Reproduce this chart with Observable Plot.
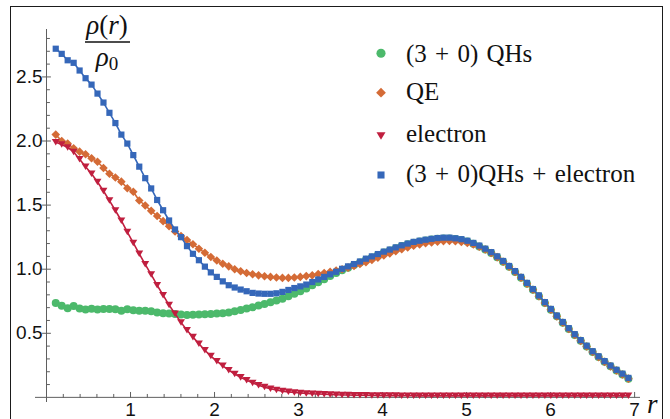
<!DOCTYPE html>
<html>
<head>
<meta charset="utf-8">
<script src="https://cdn.jsdelivr.net/npm/d3@7"></script>
<script src="https://cdn.jsdelivr.net/npm/@observablehq/plot@0.6"></script>
<style>
html,body{margin:0;padding:0;background:#fff;overflow:hidden}
#wrap{position:relative;width:670px;height:419px;overflow:hidden;background:#fff}
#frame{position:absolute;left:9.5px;top:5.5px;width:653px;height:440px;border:1.6px solid #1b1b1b;box-sizing:border-box}
#chart{position:absolute;left:0;top:0}
#overlay{position:absolute;left:0;top:0}
#overlay text{font-family:"Times New Roman","Liberation Serif","DejaVu Serif";fill:#111}
</style>
</head>
<body>
<div id="wrap"><div id="frame"></div><div id="chart"></div><svg id="overlay" width="670" height="419"></svg></div>
<script>
// ---------- data ----------
const r = [0.110,0.181,0.252,0.323,0.394,0.465,0.536,0.607,0.678,0.749,0.820,0.891,0.962,1.033,1.104,1.175,1.246,1.317,1.388,1.459,1.530,1.601,1.672,1.743,1.814,1.885,1.956,2.027,2.098,2.169,2.240,2.311,2.382,2.453,2.524,2.595,2.666,2.737,2.808,2.879,2.950,3.021,3.092,3.163,3.234,3.305,3.376,3.447,3.518,3.589,3.660,3.731,3.802,3.873,3.944,4.015,4.086,4.157,4.228,4.299,4.370,4.441,4.512,4.583,4.654,4.725,4.796,4.867,4.938,5.009,5.080,5.151,5.222,5.293,5.364,5.435,5.506,5.577,5.648,5.719,5.790,5.861,5.932,6.003,6.074,6.145,6.216,6.287,6.358,6.429,6.500,6.571,6.642,6.713,6.784,6.855,6.926];

const qhs = [0.737,0.714,0.695,0.712,0.694,0.686,0.692,0.686,0.69,0.69,
0.688,0.675,0.688,0.68,0.676,0.675,0.671,0.663,0.657,0.655,
0.651,0.647,0.642,0.645,0.646,0.649,0.651,0.654,0.657,0.662,
0.672,0.682,0.693,0.704,0.716,0.729,0.742,0.755,0.77,0.788,
0.808,0.828,0.85,0.874,0.898,0.922,0.946,0.97,0.992,1.012,
1.032,1.052,1.073,1.092,1.11,1.13,1.146,1.163,1.18,1.194,
1.207,1.216,1.224,1.231,1.237,1.24,1.24,1.235,1.228,1.216,
1.199,1.178,1.154,1.127,1.094,1.058,1.019,0.979,0.934,0.887,
0.839,0.789,0.737,0.684,0.632,0.582,0.534,0.487,0.441,0.397,
0.354,0.314,0.277,0.242,0.209,0.179,0.146];

const qe = [2.05,2.00,1.98,1.943,1.917,1.897,1.865,1.838,1.79,1.745,
1.715,1.683,1.632,1.604,1.536,1.497,1.455,1.415,1.375,1.335,
1.295,1.258,1.228,1.195,1.16,1.128,1.095,1.068,1.043,1.022,
1.0,0.984,0.97,0.96,0.952,0.945,0.94,0.935,0.932,0.932,
0.935,0.94,0.946,0.952,0.962,0.97,0.98,0.99,1.0,1.012,
1.025,1.04,1.055,1.072,1.09,1.107,1.123,1.14,1.156,1.17,
1.183,1.193,1.202,1.209,1.215,1.219,1.22,1.218,1.213,1.205,
1.192,1.175,1.153,1.127,1.094,1.058,1.019,0.979,0.934,0.887,
0.839,0.789,0.737,0.684,0.632,0.582,0.534,0.487,0.441,0.397,
0.354,0.314,0.277,0.242,0.209,0.179,0.146];

const electron = [1.99,1.973,1.95,1.915,1.858,1.80,1.745,1.68,1.61,1.535,
1.458,1.378,1.29,1.205,1.12,1.038,0.958,0.875,0.797,0.72,
0.652,0.585,0.523,0.47,0.418,0.368,0.322,0.282,0.246,0.212,
0.182,0.156,0.133,0.113,0.095,0.08,0.067,0.057,0.049,0.043,
0.038,0.034,0.031,0.028,0.026,0.024,0.022,0.02,0.019,0.018,
0.017,0.016,0.016,0.015,0.015,0.014,0.014,0.014,0.013,0.013,
0.013,0.012,0.012,0.012,0.012,0.012,0.012,0.012,0.012,0.012,
0.012,0.012,0.012,0.012,0.012,0.012,0.012,0.012,0.012,0.012,
0.012,0.012,0.012,0.012,0.012,0.012,0.012,0.012,0.012,0.012,
0.012,0.012,0.012,0.012,0.012,0.012,0.012];

const combined = [2.72,2.68,2.63,2.61,2.55,2.49,2.44,2.37,2.30,2.22,
2.14,2.05,1.98,1.89,1.80,1.71,1.63,1.54,1.46,1.38,
1.31,1.25,1.18,1.12,1.07,1.02,0.975,0.94,0.905,0.875,
0.857,0.841,0.828,0.815,0.81,0.808,0.808,0.812,0.823,0.838,
0.853,0.866,0.88,0.90,0.92,0.94,0.96,0.98,1.003,1.022,
1.04,1.06,1.082,1.10,1.118,1.137,1.153,1.17,1.186,1.20,
1.213,1.222,1.23,1.237,1.243,1.246,1.246,1.241,1.234,1.222,
1.205,1.184,1.16,1.133,1.10,1.064,1.025,0.985,0.94,0.893,
0.845,0.795,0.743,0.69,0.638,0.588,0.54,0.493,0.447,0.403,
0.36,0.32,0.283,0.248,0.215,0.185,0.152];

const seriesNames = ["(3 + 0) QHs", "QE", "electron", "(3 + 0)QHs + electron"];
const seriesValues = [qhs, qe, electron, combined];

const xMajor = [1, 2, 3, 4, 5, 6, 7];
const xMinor = [0.2,0.4,0.6,0.8,1.2,1.4,1.6,1.8,2.2,2.4,2.6,2.8,3.2,3.4,3.6,3.8,4.2,4.4,4.6,4.8,5.2,5.4,5.6,5.8,6.2,6.4,6.6,6.8];
const yMajor = [0.5, 1.0, 1.5, 2.0, 2.5];
const yTickLabels = ["0.5", "1.0", "1.5", "2.0", "2.5"];
const yMinor = [0.1,0.2,0.3,0.4,0.6,0.7,0.8,0.9,1.1,1.2,1.3,1.4,1.6,1.7,1.8,1.9,2.1,2.2,2.3,2.4,2.6,2.7,2.8];

// ---------- styles ----------
const colors = ["#4cb96b", "#d46b36", "#c01f3f", "#3567b9"];
const axisColor = "#5f5f5f";
const sansFont = "Liberation Sans, Arial, sans-serif";

const symDiamond = {draw(ctx, size) { const h = Math.sqrt(size) * 0.62; ctx.moveTo(0, -h); ctx.lineTo(h, 0); ctx.lineTo(0, h); ctx.lineTo(-h, 0); ctx.closePath(); }};
const symTriDown = {draw(ctx, size) { const s = Math.sqrt(size); const w = s * 0.62, h = s * 1.02; ctx.moveTo(-w, -h / 2); ctx.lineTo(w, -h / 2); ctx.lineTo(0, h / 2); ctx.closePath(); }};
const symSquare = {draw(ctx, size) { const a = Math.sqrt(size) / 2; ctx.rect(-a, -a, 2 * a, 2 * a); }};
const symCircle = {draw(ctx, size) { const rr = Math.sqrt(size / Math.PI); ctx.moveTo(rr, 0); ctx.arc(0, 0, rr, 0, 2 * Math.PI); }};
const symbols = [symCircle, symDiamond, symTriDown, symSquare];
const dotR = [4.0, 3.9, 3.6, 3.5];

const tickShape = {draw(ctx, l) { ctx.moveTo(0, 0); ctx.lineTo(0, -l); }};

const tables = seriesValues.map((vals, k) => vals.map((v, i) => ({r: r[i], v, s: seriesNames[k]})));

const marks = [
  Plot.ruleY([0], {stroke: axisColor, strokeWidth: 1}),
  Plot.ruleX([0], {stroke: axisColor, strokeWidth: 1}),
  Plot.vector(xMajor, {x: d => d, y: () => 0, length: 5, anchor: "start", shape: tickShape, stroke: axisColor, strokeWidth: 1}),
  Plot.vector(xMinor, {x: d => d, y: () => 0, length: 3, anchor: "start", shape: tickShape, stroke: axisColor, strokeWidth: 1}),
  Plot.vector(yMajor, {x: () => 0, y: d => d, length: 8, rotate: 90, anchor: "middle", shape: tickShape, stroke: axisColor, strokeWidth: 1}),
  Plot.vector(yMinor, {x: () => 0, y: d => d, length: 3, rotate: 90, anchor: "start", shape: tickShape, stroke: axisColor, strokeWidth: 1}),
  Plot.text(xMajor, {x: d => d, y: () => 0, text: d => String(d), dy: 13, fontSize: 19, fontFamily: sansFont, fill: "#111"}),
  Plot.text(yMajor, {x: () => 0, y: d => d, text: (d, i) => yTickLabels[i], textAnchor: "end", dx: -4, fontSize: 19, fontFamily: sansFont, fill: "#111"})
];
tables.forEach((t, k) => {
  marks.push(Plot.line(t, {x: "r", y: "v", stroke: colors[k], strokeWidth: 1.6}));
  marks.push(Plot.dot(t, {x: "r", y: "v", fill: colors[k], r: dotR[k], symbol: symbols[k]}));
});

const chart = Plot.plot({
  width: 670, height: 419,
  marginLeft: 35, marginRight: 30, marginTop: 29, marginBottom: 17,
  x: {domain: [-0.131, 7.07], axis: null},
  y: {domain: [-0.04, 2.87], axis: null},
  style: {background: "transparent", overflow: "visible"},
  marks
});
document.getElementById("chart").appendChild(chart);

// ---------- overlay: axis titles and legend ----------
const ov = d3.select("#overlay");
// y title: rho(r)/rho_0
const num = ov.append("text").attr("x", 107).attr("y", 34).attr("text-anchor", "middle").style("font-size", "27px");
num.append("tspan").style("font-style", "italic").text("ρ");
num.append("tspan").text("(");
num.append("tspan").style("font-style", "italic").text("r");
num.append("tspan").text(")");
ov.append("line").attr("x1", 85).attr("x2", 130).attr("y1", 42).attr("y2", 42).attr("stroke", "#111").attr("stroke-width", 1.3);
const den = ov.append("text").attr("x", 107).attr("y", 66).attr("text-anchor", "middle").style("font-size", "27px");
den.append("tspan").style("font-style", "italic").text("ρ");
den.append("tspan").style("font-size", "19px").attr("dy", 4).text("0");
// x title
ov.append("text").attr("x", 647).attr("y", 413).style("font-style", "italic").style("font-size", "27px").text("r");

// legend
const legY = [53.3, 92.7, 136, 175];
const legBase = [61.5, 100, 141.7, 181.5];
seriesNames.forEach((name, k) => {
  const g = ov.append("g").attr("transform", `translate(381,${legY[k]})`);
  const p = d3.path();
  symbols[k].draw(p, Math.PI * dotR[k] * dotR[k] * 1.3);
  g.append("path").attr("d", p.toString()).attr("fill", colors[k]);
  ov.append("text").attr("x", 406).attr("y", legBase[k]).style("font-size", "25px").style("word-spacing", "2px").text(name);
});
</script>
</body>
</html>
